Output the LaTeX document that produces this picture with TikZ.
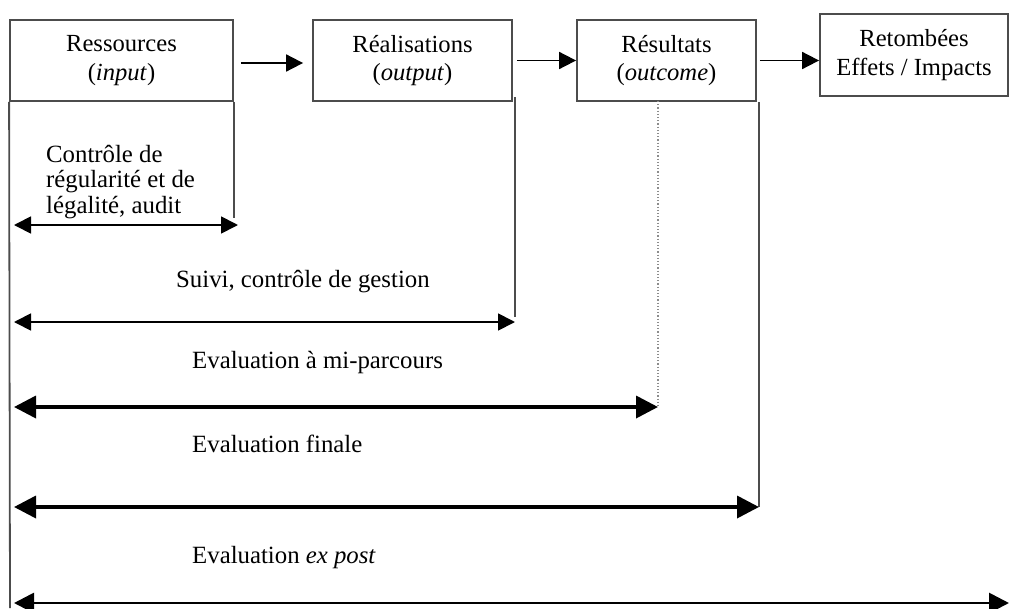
\documentclass[tikz,border=0pt]{standalone}
\usepackage{fontspec}
\setmainfont{Liberation Serif}
\usetikzlibrary{arrows.meta}
\begin{document}
\begin{tikzpicture}[x=1pt,y=-1pt,
  stage/.style={draw=black!70, line width=1.8pt, rectangle, align=center,
    font=\fontsize{24.6}{28.5}\selectfont, inner sep=0pt},
  rule/.style={draw=black!70, line width=1.8pt},
  guide/.style={draw=black!45, line width=1.2pt, dotted},
  flow/.style={draw=black, line width=1.8pt, -{Triangle[length=17pt,width=17pt]}},
  spanthin/.style={draw=black, line width=1.8pt,
    {Triangle[length=17pt,width=17pt]}-{Triangle[length=17pt,width=17pt]}},
  spanthick/.style={draw=black, line width=3.6pt,
    {Triangle[length=22pt,width=22pt]}-{Triangle[length=22pt,width=22pt]}},
  spanmid/.style={draw=black, line width=2.8pt,
    {Triangle[length=20pt,width=20pt]}-{Triangle[length=20pt,width=20pt]}},
  lbl/.style={font=\fontsize{24.8}{25.5}\selectfont, inner sep=0pt}]
\useasboundingbox (0,0) rectangle (1009,608);

% the four stages of the chain
\node[stage, minimum width=223pt, minimum height=81pt] (b1) at (121.5,60.5)
  {Ressources\\(\textit{input})};
\node[stage, minimum width=199pt, minimum height=81pt] (b2) at (412.5,60.5)
  {Réalisations\\(\textit{output})};
\node[stage, minimum width=179pt, minimum height=81pt] (b3) at (666.5,60.5)
  {Résultats\\(\textit{outcome})};
\node[stage, minimum width=188pt, minimum height=82pt] (b4) at (914,55)
  {Retombées\\Effets / Impacts};

% arrows between stages
\draw[flow] ([xshift=7pt,yshift=-2.5pt]b1.east) -- ([xshift=-9pt,yshift=-2.5pt]b2.west);
\draw[flow] ([xshift=4pt]b2.east) -- (b3.west);
\draw[flow] ([xshift=3pt]b3.east) -- (b3.east -| b4.west);

% end points of the measuring spans
\coordinate (l1) at (14,225);  \coordinate (r1) at (238,225);
\coordinate (l2) at (14,322);  \coordinate (r2) at (515,322);
\coordinate (l3) at (14,407);  \coordinate (r3) at (658,407);
\coordinate (l4) at (14,507);  \coordinate (r4) at (759,507);
\coordinate (l5) at (14,603);  \coordinate (r5) at (1009,603);

% vertical reference lines
\draw[rule] (b1.south west) -- (10,608);
\draw[rule] (b1.south east) -- ([yshift=7pt]r1 -| b1.south east);
\draw[rule] (515,97) -- ([yshift=5pt]r2);
\draw[guide] (658,101) -- (r3);
\draw[rule] (759,102) -- (r4);

% spans
\draw[spanthin] (l1) -- (r1);
\draw[spanthin] (l2) -- (r2);
\draw[spanthick] (l3) -- (r3);
\draw[spanthick] (l4) -- (r4);
\draw[spanmid] (l5) -- (r5);

% labels (a multi-line node sits on the baseline of its last line)
\node[lbl, anchor=base west, align=left] (t1) at (46,213)
  {Contrôle de\\régularité et de\\légalité, audit};
\node[lbl, anchor=base west] (t2) at (176,287) {Suivi, contrôle de gestion};
\node[lbl, anchor=base west] (t3) at (192,368) {Evaluation à mi-parcours};
\node[lbl, anchor=base west] (t4) at (192,452) {Evaluation finale};
\node[lbl, anchor=base west] (t5) at (192,563) {Evaluation \textit{ex post}};
\end{tikzpicture}
\end{document}
